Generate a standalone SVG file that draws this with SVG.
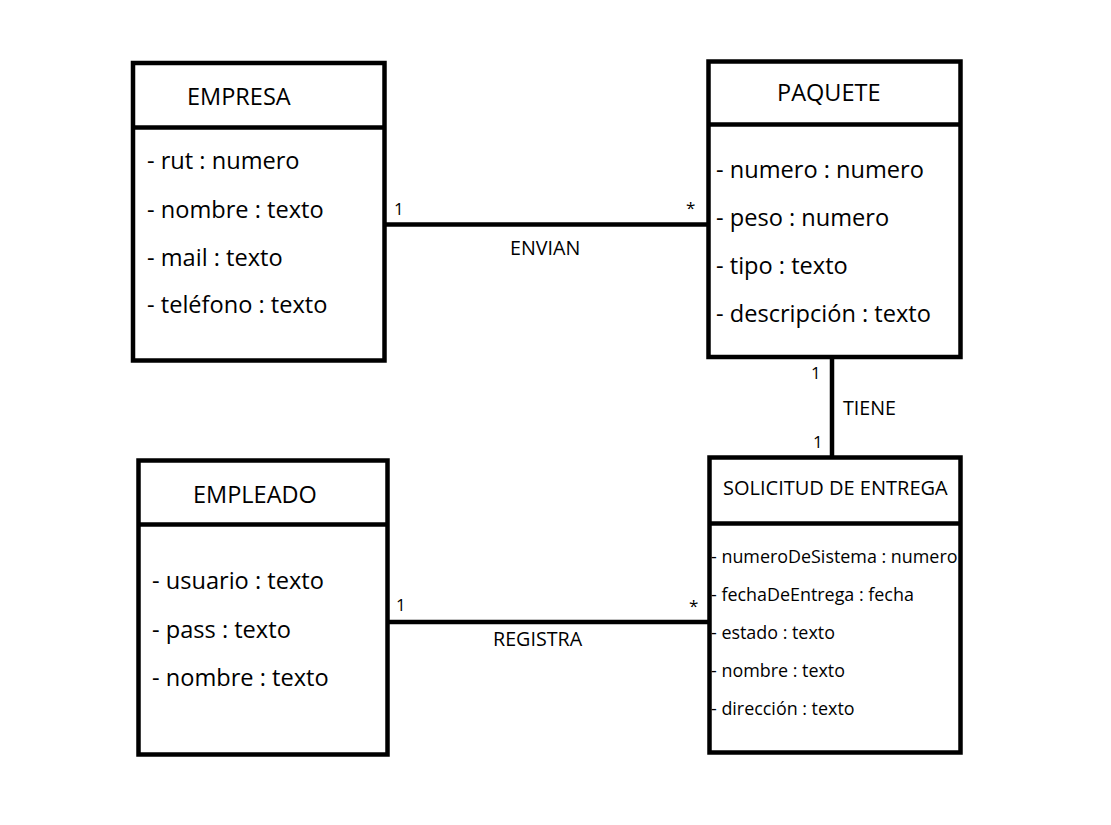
<svg xmlns="http://www.w3.org/2000/svg" width="1111" height="825" viewBox="0 0 1111 825">
<style>
.box{fill:#fff;stroke:#000;stroke-width:4.5}
.div{stroke:#000;stroke-width:4.5}
.con{stroke:#000;stroke-width:4.5;fill:none}
text{font-family:"Open Sans","Noto Sans",sans-serif;fill:#000}
.t{font-size:23.5px}
.a{font-size:23.6px}
.s{font-size:17.9px}
.st{font-size:20px}
.l{font-size:19.7px}
.m{font-size:17px}
</style>
<rect width="1111" height="825" fill="#fff"/>
<g id="connectors">
<line class="con" x1="384" y1="224.5" x2="708" y2="224.5"/>
<line class="con" x1="387" y1="622" x2="709" y2="622"/>
<line class="con" x1="832" y1="357" x2="832" y2="457"/>
<text class="m" x="394" y="215">1</text>
<text class="m" x="686" y="214">*</text>
<text class="l" x="510" y="255">ENVIAN</text>
<text class="m" x="396" y="611">1</text>
<text class="m" x="689" y="612">*</text>
<text class="l" x="493" y="646">REGISTRA</text>
<text class="l" x="843" y="415">TIENE</text>
<text class="m" x="811" y="379">1</text>
<text class="m" x="813" y="448">1</text>
</g>
<g id="empresa">
<rect class="box" x="133" y="63" width="251.5" height="297.5"/>
<line class="div" x1="133" y1="127.5" x2="384.5" y2="127.5"/>
<text class="t" x="187" y="105">EMPRESA</text>
<text class="a" x="147" y="169">- rut : numero</text>
<text class="a" x="147" y="218">- nombre : texto</text>
<text class="a" x="147" y="266">- mail : texto</text>
<text class="a" x="147" y="313">- teléfono : texto</text>
</g>
<g id="paquete">
<rect class="box" x="708.5" y="61.5" width="252" height="295.5"/>
<line class="div" x1="708.5" y1="124.5" x2="960.5" y2="124.5"/>
<text class="t" x="777" y="101">PAQUETE</text>
<text class="a" x="716" y="178">- numero : numero</text>
<text class="a" x="716" y="226">- peso : numero</text>
<text class="a" x="716" y="274">- tipo : texto</text>
<text class="a" x="716" y="322">- descripción : texto</text>
</g>
<g id="solicitud">
<rect class="box" x="709.5" y="457.5" width="251" height="295"/>
<line class="div" x1="709.5" y1="523.5" x2="960.5" y2="523.5"/>
<text class="st" x="723" y="495">SOLICITUD DE ENTREGA</text>
<text class="s" x="711" y="563">- numeroDeSistema : numero</text>
<text class="s" x="711" y="601">- fechaDeEntrega : fecha</text>
<text class="s" x="711" y="639">- estado : texto</text>
<text class="s" x="711" y="677">- nombre : texto</text>
<text class="s" x="711" y="715">- dirección : texto</text>
</g>
<g id="empleado">
<rect class="box" x="138.5" y="460.5" width="249" height="294"/>
<line class="div" x1="138.5" y1="524.5" x2="387.5" y2="524.5"/>
<text class="t" x="193" y="503">EMPLEADO</text>
<text class="a" x="152" y="589">- usuario : texto</text>
<text class="a" x="152" y="638">- pass : texto</text>
<text class="a" x="152" y="686">- nombre : texto</text>
</g>
</svg>
